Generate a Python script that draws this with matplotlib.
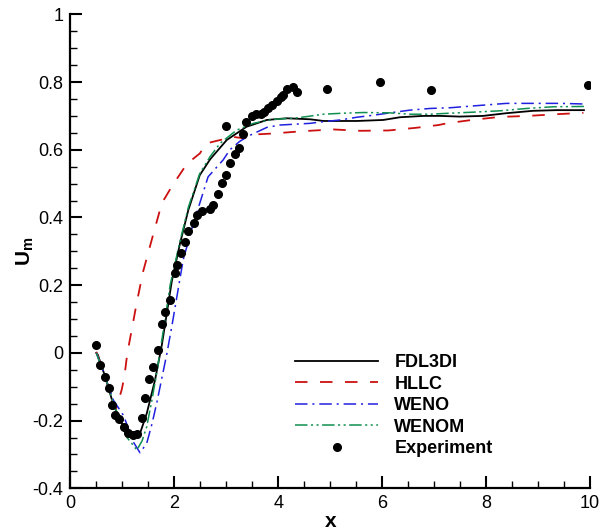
import numpy as np
import matplotlib
matplotlib.use("Agg")
import matplotlib.pyplot as plt
from matplotlib.ticker import MultipleLocator, FixedLocator, FixedFormatter

plt.rcParams['font.family'] = ['Liberation Sans', 'DejaVu Sans']
plt.rcParams['mathtext.fontset'] = 'custom'
plt.rcParams['mathtext.rm'] = 'Liberation Sans'
plt.rcParams['mathtext.bf'] = 'Liberation Sans:bold'
plt.rcParams['lines.scale_dashes'] = False

# FDL3DI (black solid)
fdl_x = [0.5, 0.53, 0.67, 0.83, 0.99, 1.12, 1.24, 1.34, 1.47, 1.63, 1.76, 1.89, 1.95,
         2.11, 2.27, 2.49, 2.69, 3.01, 3.39, 3.78, 4.16, 4.61, 4.87, 5.51, 6.02, 6.34,
         6.79, 7.11, 7.49, 7.94, 8.39, 8.90, 9.35, 9.88]
fdl_y = [0.0, -0.006, -0.07, -0.154, -0.208, -0.238, -0.248, -0.238, -0.179, -0.08, 0.023,
         0.15, 0.21, 0.323, 0.422, 0.525, 0.572, 0.629, 0.668, 0.688, 0.693, 0.690, 0.685,
         0.685, 0.688, 0.696, 0.700, 0.700, 0.698, 0.700, 0.708, 0.715, 0.717, 0.717]

# HLLC (red dashed)
hllc_x = [0.5, 0.67, 0.83, 0.88, 0.99, 1.04, 1.08, 1.12, 1.28, 1.40, 1.60, 1.76, 1.95,
          2.24, 2.49, 2.62, 3.13, 3.33, 3.52, 3.90, 4.48, 5.06, 5.57, 6.12, 6.66, 7.08,
          7.24, 7.72, 8.26, 8.81, 9.35, 9.87]
hllc_y = [0.003, -0.07, -0.152, -0.165, -0.108, -0.07, -0.021, 0.018, 0.15, 0.24, 0.353,
          0.442, 0.491, 0.558, 0.589, 0.619, 0.638, 0.634, 0.645, 0.648, 0.655, 0.660,
          0.656, 0.657, 0.665, 0.673, 0.678, 0.688, 0.697, 0.700, 0.705, 0.709]

# WENO (blue dash-dot)
weno_x = [0.5, 0.67, 0.83, 1.02, 1.08, 1.2, 1.34, 1.47, 1.57, 1.66, 1.76, 1.86, 1.96,
          2.05, 2.17, 2.33, 2.49, 2.65, 2.94, 3.07, 3.26, 3.46, 3.78, 4.03, 4.61, 4.87,
          5.19, 5.51, 5.83, 6.15, 6.53, 6.92, 7.30, 7.88, 8.39, 8.90, 9.42, 9.93]
weno_y = [0.0, -0.07, -0.14, -0.184, -0.208, -0.26, -0.295, -0.267, -0.21, -0.15, -0.075,
          0.0, 0.085, 0.166, 0.274, 0.363, 0.442, 0.520, 0.570, 0.600, 0.625, 0.643, 0.666,
          0.673, 0.678, 0.683, 0.688, 0.696, 0.702, 0.709, 0.717, 0.722, 0.724, 0.731,
          0.737, 0.737, 0.737, 0.735]

# WENOM (green dash-dot-dot)
wenom_x = [0.5, 0.67, 0.83, 1.0, 1.08, 1.18, 1.28, 1.38, 1.47, 1.57, 1.66, 1.79, 1.92,
           2.11, 2.27, 2.49, 2.69, 2.88, 3.20, 3.52, 3.90, 4.29, 4.55, 4.87, 5.25, 5.64,
           6.15, 6.53, 6.92, 7.30, 7.75, 8.26, 8.78, 9.29, 9.93]
wenom_y = [0.0, -0.07, -0.15, -0.215, -0.248, -0.267, -0.287, -0.26, -0.218, -0.139,
           -0.061, 0.067, 0.2, 0.33, 0.43, 0.53, 0.58, 0.619, 0.658, 0.678, 0.690, 0.693,
           0.698, 0.705, 0.708, 0.710, 0.709, 0.705, 0.705, 0.708, 0.711, 0.715, 0.722,
           0.727, 0.728]

# Experiment (black dots)
exp_x = [0.50, 0.58, 0.67, 0.74, 0.81, 0.86, 0.93, 1.04, 1.10, 1.20, 1.28, 1.37, 1.44,
         1.51, 1.60, 1.68, 1.76, 1.83, 1.91, 2.02, 2.06, 2.12, 2.20, 2.27, 2.38, 2.44,
         2.54, 2.69, 2.74, 2.85, 2.91, 2.99, 2.99, 3.08, 3.16, 3.25, 3.32, 3.38, 3.49,
         3.57, 3.66, 3.73, 3.81, 3.88, 3.97, 4.05, 4.10, 4.16, 4.28, 4.37, 4.94, 5.96,
         6.94, 9.96]
exp_y = [0.024, -0.035, -0.072, -0.104, -0.155, -0.183, -0.196, -0.218, -0.236, -0.243,
         -0.240, -0.192, -0.134, -0.077, -0.043, 0.010, 0.085, 0.120, 0.157, 0.235, 0.259,
         0.294, 0.327, 0.361, 0.385, 0.407, 0.420, 0.424, 0.438, 0.470, 0.502, 0.525,
         0.671, 0.560, 0.587, 0.605, 0.648, 0.681, 0.701, 0.705, 0.705, 0.711, 0.722,
         0.731, 0.744, 0.755, 0.763, 0.780, 0.785, 0.770, 0.778, 0.799, 0.776, 0.790]

xtick_vals = [0, 2, 4, 6, 8, 10]
xtick_labels = ['0', '2', '4', '6', '8', '10']
ytick_vals = [-0.4, -0.2, 0, 0.2, 0.4, 0.6, 0.8, 1.0]
ytick_labels = ['-0.4', '-0.2', '0', '0.2', '0.4', '0.6', '0.8', '1']

fig = plt.figure(figsize=(6.01, 5.31), dpi=100)
ax = fig.add_axes([0.117, 0.0804, 0.865, 0.8926])

ax.plot(fdl_x, fdl_y, color='black', lw=1.3, label='FDL3DI')
ax.plot(hllc_x, hllc_y, color='#cc1010', lw=1.3, dashes=(9, 9), label='HLLC')
ax.plot(weno_x, weno_y, color='#2020e0', lw=1.1, dashes=(9, 3.5, 1.5, 3.5), label='WENO')
ax.plot(wenom_x, wenom_y, color='#109050', lw=1.1,
        dashes=(9, 2.5, 1.5, 2.5, 1.5, 2.5), label='WENOM')
ax.plot(exp_x, exp_y, 'o', color='black', ms=5.5, label='Experiment')

ax.set_xlim(0, 10)
ax.set_ylim(-0.4, 1.0)
ax.xaxis.set_major_locator(FixedLocator(xtick_vals))
ax.xaxis.set_major_formatter(FixedFormatter(xtick_labels))
ax.yaxis.set_major_locator(FixedLocator(ytick_vals))
ax.yaxis.set_major_formatter(FixedFormatter(ytick_labels))
ax.xaxis.set_minor_locator(MultipleLocator(0.5))
ax.yaxis.set_minor_locator(MultipleLocator(0.05))

ax.tick_params(which='major', direction='in', length=8.5, width=1.5, labelsize=13, pad=5)
ax.tick_params(which='minor', direction='in', length=5, width=1.0)
ax.tick_params(top=False, right=False, which='both')
for s in ['top', 'right']:
    ax.spines[s].set_visible(False)
for s in ['left', 'bottom']:
    ax.spines[s].set_linewidth(1.6)

ax.set_xlabel('x', fontsize=15, fontweight='bold')
ax.xaxis.set_label_coords(0.5, -0.05)
ax.set_ylabel(r'$\mathbf{U}_\mathbf{m}$', fontsize=15)
ax.yaxis.set_label_coords(-0.066, 0.5)

leg = ax.legend(loc='upper left', bbox_to_anchor=(295 / 601, 1 - 354 / 531),
                bbox_transform=fig.transFigure, frameon=False, borderpad=0,
                borderaxespad=0, handlelength=4.6, handletextpad=0.9,
                labelspacing=0.25, numpoints=1, prop={'size': 13, 'weight': 'bold'})

fig.savefig('out.png', dpi=100)
